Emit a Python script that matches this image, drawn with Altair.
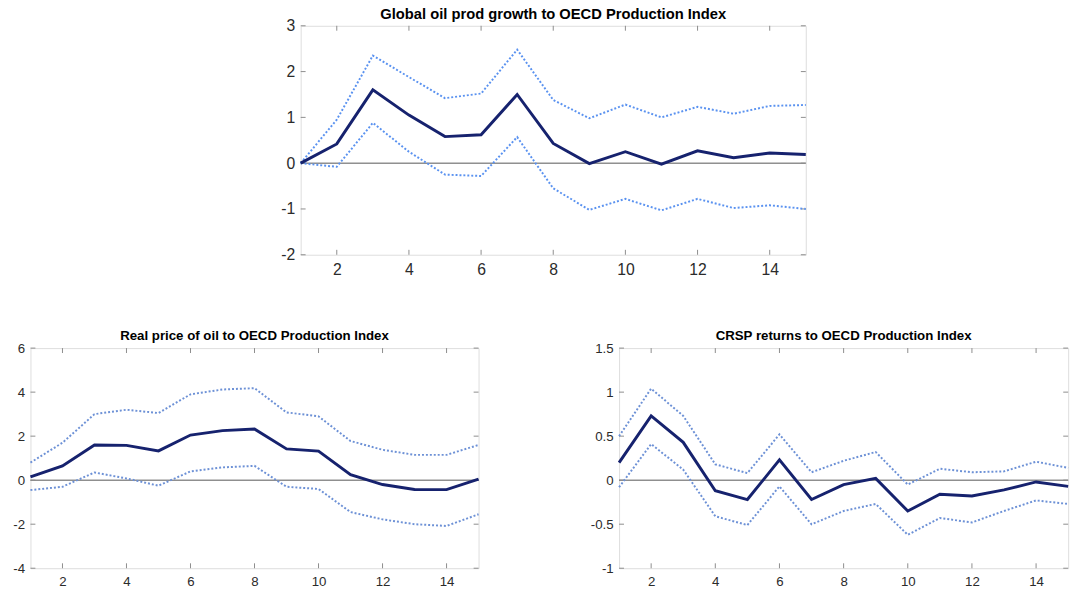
import altair as alt
import pandas as pd

horizon = list(range(1, 16))
xticks = [2, 4, 6, 8, 10, 12, 14]

# Panel 1: Global oil prod growth
oil_mid = [0.0, 0.42, 1.6, 1.05, 0.58, 0.62, 1.5, 0.43, -0.01, 0.25, -0.02, 0.27, 0.12, 0.22, 0.19]
oil_hi = [0.0, 0.95, 2.35, 1.88, 1.42, 1.52, 2.48, 1.38, 0.98, 1.28, 1.0, 1.23, 1.08, 1.25, 1.27]
oil_lo = [0.0, -0.08, 0.88, 0.25, -0.25, -0.28, 0.57, -0.55, -1.02, -0.78, -1.03, -0.78, -0.98, -0.92, -1.0]

# Panel 2: Real price of oil
price_mid = [0.15, 0.65, 1.6, 1.58, 1.33, 2.05, 2.25, 2.32, 1.42, 1.32, 0.25, -0.2, -0.42, -0.43, 0.05]
price_hi = [0.8, 1.7, 3.0, 3.2, 3.05, 3.9, 4.12, 4.18, 3.08, 2.9, 1.78, 1.38, 1.15, 1.15, 1.6]
price_lo = [-0.45, -0.3, 0.35, 0.08, -0.25, 0.4, 0.58, 0.65, -0.3, -0.4, -1.45, -1.78, -2.0, -2.08, -1.55]

# Panel 3: CRSP returns
crsp_mid = [0.2, 0.73, 0.43, -0.12, -0.22, 0.23, -0.22, -0.05, 0.02, -0.35, -0.16, -0.18, -0.11, -0.02, -0.07]
crsp_hi = [0.5, 1.04, 0.73, 0.18, 0.08, 0.52, 0.09, 0.22, 0.32, -0.05, 0.13, 0.09, 0.1, 0.21, 0.14]
crsp_lo = [-0.08, 0.41, 0.12, -0.41, -0.51, -0.07, -0.5, -0.35, -0.27, -0.62, -0.43, -0.48, -0.35, -0.23, -0.27]

FONT = "Liberation Sans"
NAVY = "#16226e"
FRAME = "#8c8c8c"


def panel(title, lo, mid, hi, ydomain, yticks, w, h, dot_color, lab_size, title_size, title_offset):
    df = pd.DataFrame({"h": horizon, "lo": lo, "mid": mid, "hi": hi})
    xs = alt.Scale(domain=[1, 15], nice=False, zero=False)
    ys = alt.Scale(domain=ydomain, nice=False, zero=False)
    xaxis = alt.Axis(values=xticks, ticks=False, domain=False, grid=False,
                     labelPadding=7, labelFontSize=lab_size, labelColor="#2b2b2b",
                     labelFont=FONT, title=None, labelExpr="datum.value + ''")
    yaxis = alt.Axis(values=yticks, ticks=False, domain=False, grid=False,
                     labelPadding=6, labelFontSize=lab_size, labelColor="#2b2b2b",
                     labelFont=FONT, title=None, labelExpr="datum.value + ''")

    def X(f):
        return alt.X(f, scale=xs, axis=xaxis)

    def Y(f):
        return alt.Y(f, scale=ys, axis=yaxis)

    base = alt.Chart(df)
    zero = alt.Chart(pd.DataFrame({"z": [0]})).mark_rule(color="#555555", strokeWidth=1).encode(
        y=Y("z:Q"))
    hi_line = base.mark_line(color=dot_color, strokeWidth=2, strokeDash=[2, 2]).encode(
        x=X("h:Q"), y=Y("hi:Q"))
    lo_line = base.mark_line(color=dot_color, strokeWidth=2, strokeDash=[2, 2]).encode(
        x=X("h:Q"), y=Y("lo:Q"))
    mid_line = base.mark_line(color=NAVY, strokeWidth=3).encode(
        x=X("h:Q"), y=Y("mid:Q"))
    xt = alt.Chart(pd.DataFrame({"t": xticks}))
    yt = alt.Chart(pd.DataFrame({"t": yticks}))
    tb = xt.mark_rule(color=FRAME, strokeWidth=1).encode(
        x=X("t:Q"), y=alt.value(h), y2=alt.value(h - 5))
    tt = xt.mark_rule(color=FRAME, strokeWidth=1).encode(
        x=X("t:Q"), y=alt.value(0), y2=alt.value(5))
    tl = yt.mark_rule(color=FRAME, strokeWidth=1).encode(
        y=Y("t:Q"), x=alt.value(0), x2=alt.value(5))
    tr = yt.mark_rule(color=FRAME, strokeWidth=1).encode(
        y=Y("t:Q"), x=alt.value(w), x2=alt.value(w - 5))
    return alt.layer(zero, tb, tt, tl, tr, hi_line, lo_line, mid_line).properties(
        width=w, height=h,
        title=alt.TitleParams(title, fontSize=title_size, fontWeight="bold", font=FONT,
                              color="black", offset=title_offset, anchor="middle",
                              frame="group"))


top = panel("Global oil prod growth to OECD Production Index", oil_lo, oil_mid, oil_hi,
            [-2, 3], [-2, -1, 0, 1, 2, 3], 514, 233, "#5a92f0", 16, 15, -4.25)
left = panel("Real price of oil to OECD Production Index", price_lo, price_mid, price_hi,
             [-4, 6], [-4, -2, 0, 2, 4, 6], 456, 224, "#6d91d6", 13.5, 13.5, -1.5)
right = panel("CRSP returns to OECD Production Index", crsp_lo, crsp_mid, crsp_hi,
              [-1, 1.5], [-1, -0.5, 0, 0.5, 1, 1.5], 457, 224, "#6d91d6", 13.5, 13.5, -1.5)

spacer = alt.Chart(pd.DataFrame({"v": [0]})).mark_point(opacity=0).encode(
    x=alt.X("v:Q", axis=None), y=alt.Y("v:Q", axis=None)).properties(
    width=254, height=233, view=alt.ViewBackground(strokeOpacity=0))

top_row = alt.hconcat(spacer, top, spacing=0)
bottom_row = alt.hconcat(left, right, spacing=106)

chart = alt.vconcat(top_row, bottom_row, spacing=51).properties(
    padding={"left": 12, "top": 1, "right": 2, "bottom": 1}
).configure_view(stroke=FRAME, strokeWidth=1).configure(background="white")

chart.save("out.html", embed_options={"renderer": "svg", "actions": False})
